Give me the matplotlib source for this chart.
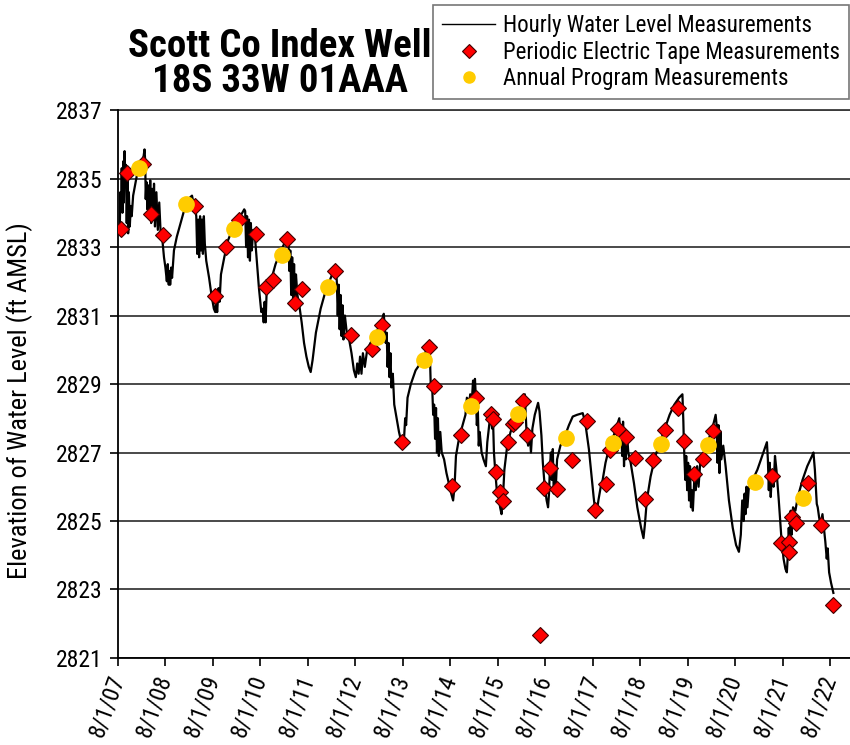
import numpy as np
import matplotlib
matplotlib.use("Agg")
import matplotlib.pyplot as plt
from matplotlib.lines import Line2D

plt.rcParams['font.family'] = ['Roboto Condensed', 'DejaVu Sans']

# hourly transducer record (decimal year, ft AMSL)
hourly = [
    (2007.62, 2833.6), (2007.63, 2834.6), (2007.645, 2834.1), (2007.66, 2835.3),
    (2007.675, 2834.0), (2007.69, 2835.5), (2007.705, 2834.3), (2007.72, 2835.8),
    (2007.735, 2834.9), (2007.75, 2835.4), (2007.765, 2833.7), (2007.78, 2835.0),
    (2007.795, 2833.4), (2007.81, 2834.6), (2007.83, 2833.6), (2007.85, 2834.2),
    (2007.87, 2833.9), (2007.90, 2834.5), (2007.98, 2835.1), (2008.06, 2835.45),
    (2008.12, 2835.65), (2008.14, 2835.85), (2008.155, 2835.5), (2008.165, 2834.4),
    (2008.18, 2834.9), (2008.20, 2834.1), (2008.22, 2834.8), (2008.24, 2833.9),
    (2008.26, 2834.95), (2008.28, 2833.7), (2008.30, 2834.7), (2008.32, 2833.8),
    (2008.34, 2834.85), (2008.36, 2833.6), (2008.39, 2834.6), (2008.42, 2833.5),
    (2008.45, 2834.3), (2008.48, 2833.4), (2008.51, 2833.3), (2008.55, 2832.7),
    (2008.58, 2832.4), (2008.61, 2832.0), (2008.63, 2832.5), (2008.65, 2831.9),
    (2008.67, 2832.3), (2008.68, 2831.9), (2008.70, 2832.4), (2008.72, 2832.1),
    (2008.76, 2832.9), (2008.82, 2833.3), (2008.90, 2833.7), (2009.00, 2834.2),
    (2009.10, 2834.45), (2009.14, 2834.5), (2009.17, 2834.3), (2009.20, 2834.2),
    (2009.23, 2833.9), (2009.25, 2832.8), (2009.27, 2833.8), (2009.29, 2832.7),
    (2009.31, 2833.9), (2009.33, 2832.9), (2009.35, 2833.8), (2009.37, 2832.8),
    (2009.39, 2833.9), (2009.41, 2833.1), (2009.44, 2832.6), (2009.50, 2832.1),
    (2009.55, 2831.6), (2009.60, 2831.2), (2009.63, 2831.1), (2009.65, 2831.5),
    (2009.67, 2831.1), (2009.70, 2831.8), (2009.72, 2831.4), (2009.75, 2832.2),
    (2009.82, 2832.7), (2009.90, 2833.2), (2010.00, 2833.55), (2010.10, 2833.8),
    (2010.20, 2834.0), (2010.24, 2834.1), (2010.26, 2834.05), (2010.28, 2833.0),
    (2010.30, 2833.9), (2010.32, 2832.7), (2010.34, 2833.8), (2010.36, 2832.6),
    (2010.38, 2833.7), (2010.40, 2832.9), (2010.43, 2833.5), (2010.46, 2833.4),
    (2010.50, 2832.7), (2010.55, 2831.8), (2010.60, 2831.1), (2010.63, 2831.2),
    (2010.65, 2830.8), (2010.67, 2831.4), (2010.69, 2830.8), (2010.71, 2831.6),
    (2010.75, 2831.8), (2010.80, 2832.0), (2010.90, 2832.5), (2011.00, 2832.85),
    (2011.10, 2833.15), (2011.15, 2833.35), (2011.17, 2833.25), (2011.19, 2832.3),
    (2011.21, 2832.9), (2011.23, 2831.6), (2011.25, 2832.7), (2011.27, 2831.4),
    (2011.29, 2832.5), (2011.31, 2831.3), (2011.33, 2832.2), (2011.36, 2831.6),
    (2011.40, 2831.3), (2011.45, 2830.8), (2011.50, 2830.2), (2011.55, 2829.8),
    (2011.60, 2829.5), (2011.64, 2829.35), (2011.68, 2829.7), (2011.75, 2830.5),
    (2011.85, 2831.2), (2011.95, 2831.7), (2012.05, 2832.05), (2012.12, 2832.3),
    (2012.17, 2832.4), (2012.19, 2832.0), (2012.21, 2831.0), (2012.23, 2831.9),
    (2012.25, 2830.6), (2012.27, 2831.6), (2012.29, 2830.4), (2012.31, 2831.3),
    (2012.33, 2830.3), (2012.36, 2831.0), (2012.40, 2830.5), (2012.45, 2830.3),
    (2012.50, 2829.9), (2012.55, 2829.4), (2012.59, 2829.2), (2012.62, 2829.6),
    (2012.65, 2829.3), (2012.68, 2829.8), (2012.71, 2829.3), (2012.74, 2829.9),
    (2012.78, 2829.5), (2012.83, 2830.0), (2012.90, 2830.2), (2013.00, 2830.4),
    (2013.08, 2830.7), (2013.15, 2830.9), (2013.18, 2831.05), (2013.20, 2830.6),
    (2013.22, 2830.2), (2013.24, 2830.5), (2013.26, 2829.5), (2013.28, 2830.2),
    (2013.30, 2829.2), (2013.32, 2829.9), (2013.34, 2828.9), (2013.37, 2829.3),
    (2013.40, 2828.4), (2013.45, 2828.0), (2013.50, 2827.6), (2013.55, 2827.3),
    (2013.58, 2827.2), (2013.61, 2827.5), (2013.63, 2828.0), (2013.65, 2827.8),
    (2013.68, 2828.6), (2013.75, 2829.0), (2013.85, 2829.4), (2013.95, 2829.6),
    (2014.05, 2829.9), (2014.13, 2830.2), (2014.15, 2829.9), (2014.17, 2828.9),
    (2014.20, 2828.9), (2014.22, 2828.1), (2014.24, 2828.4), (2014.26, 2827.4),
    (2014.28, 2828.3), (2014.30, 2827.0), (2014.32, 2828.0), (2014.34, 2826.9),
    (2014.37, 2827.6), (2014.40, 2827.0), (2014.45, 2826.8), (2014.50, 2826.4),
    (2014.55, 2826.1), (2014.60, 2825.8), (2014.64, 2825.6), (2014.67, 2826.0),
    (2014.70, 2826.9), (2014.75, 2827.3), (2014.82, 2827.7), (2014.90, 2828.1),
    (2014.93, 2828.6), (2014.96, 2828.2), (2015.00, 2828.7), (2015.03, 2828.4),
    (2015.06, 2829.1), (2015.08, 2828.7), (2015.10, 2829.15), (2015.12, 2828.6),
    (2015.14, 2827.8), (2015.16, 2828.3), (2015.18, 2827.2), (2015.20, 2827.6),
    (2015.24, 2827.0), (2015.28, 2826.8), (2015.33, 2826.6), (2015.36, 2827.3),
    (2015.40, 2827.8), (2015.43, 2828.1), (2015.46, 2827.7), (2015.48, 2828.0),
    (2015.50, 2827.0), (2015.53, 2826.4), (2015.56, 2825.9), (2015.60, 2825.7),
    (2015.63, 2825.4), (2015.66, 2825.2), (2015.69, 2825.7), (2015.72, 2826.5),
    (2015.78, 2827.2), (2015.85, 2827.6), (2015.93, 2827.9), (2016.00, 2828.1),
    (2016.08, 2828.4), (2016.15, 2828.7), (2016.17, 2828.1), (2016.19, 2827.5),
    (2016.22, 2827.2), (2016.25, 2827.6), (2016.28, 2827.0), (2016.31, 2827.7),
    (2016.36, 2828.1), (2016.43, 2828.45), (2016.46, 2828.2), (2016.50, 2827.5),
    (2016.53, 2826.7), (2016.57, 2826.0), (2016.61, 2825.6), (2016.64, 2825.4),
    (2016.66, 2825.8), (2016.68, 2826.6), (2016.70, 2827.0), (2016.72, 2826.2),
    (2016.74, 2827.1), (2016.76, 2825.8), (2016.78, 2826.5), (2016.80, 2825.9),
    (2016.83, 2826.8), (2016.90, 2827.2), (2017.00, 2827.5), (2017.08, 2827.8),
    (2017.16, 2828.05), (2017.25, 2828.1), (2017.37, 2828.15), (2017.42, 2827.9),
    (2017.47, 2827.4), (2017.50, 2827.1), (2017.55, 2826.4), (2017.60, 2825.7),
    (2017.65, 2825.1), (2017.70, 2825.6), (2017.75, 2826.0), (2017.79, 2826.2),
    (2017.85, 2826.7), (2017.92, 2827.1), (2018.00, 2827.4), (2018.07, 2827.7),
    (2018.14, 2828.0), (2018.16, 2827.6), (2018.18, 2827.8), (2018.20, 2826.9),
    (2018.22, 2827.9), (2018.24, 2826.6), (2018.26, 2827.5), (2018.28, 2826.8),
    (2018.30, 2827.6), (2018.33, 2827.0), (2018.38, 2826.7), (2018.45, 2826.1),
    (2018.52, 2825.4), (2018.60, 2824.8), (2018.65, 2824.5), (2018.68, 2824.9),
    (2018.72, 2825.6), (2018.80, 2826.3), (2018.90, 2826.9), (2019.00, 2827.3),
    (2019.10, 2827.7), (2019.20, 2828.1), (2019.30, 2828.4), (2019.40, 2828.6),
    (2019.47, 2828.7), (2019.49, 2827.9), (2019.50, 2827.3), (2019.53, 2826.2),
    (2019.55, 2826.9), (2019.57, 2825.9), (2019.59, 2826.7), (2019.61, 2825.6),
    (2019.63, 2826.6), (2019.65, 2825.4), (2019.67, 2825.9), (2019.69, 2825.3),
    (2019.72, 2826.2), (2019.75, 2825.9), (2019.78, 2826.6), (2019.81, 2826.0),
    (2019.85, 2826.8), (2019.90, 2826.9), (2020.00, 2827.3), (2020.10, 2827.7),
    (2020.17, 2828.1), (2020.19, 2827.8), (2020.21, 2826.7), (2020.23, 2827.8),
    (2020.25, 2826.4), (2020.27, 2827.6), (2020.29, 2826.8), (2020.33, 2827.2),
    (2020.38, 2826.6), (2020.45, 2825.6), (2020.53, 2824.8), (2020.60, 2824.3),
    (2020.66, 2824.1), (2020.70, 2824.6), (2020.73, 2825.6), (2020.76, 2825.0),
    (2020.78, 2825.8), (2020.80, 2825.2), (2020.82, 2826.0), (2020.84, 2825.4),
    (2020.87, 2826.0), (2020.95, 2826.2), (2021.05, 2826.5), (2021.15, 2826.9),
    (2021.25, 2827.3), (2021.27, 2826.8), (2021.29, 2825.9), (2021.31, 2826.7),
    (2021.33, 2825.7), (2021.36, 2826.5), (2021.39, 2826.0), (2021.42, 2826.9),
    (2021.45, 2826.5), (2021.50, 2825.6), (2021.55, 2824.6), (2021.60, 2823.9),
    (2021.64, 2823.6), (2021.67, 2823.5), (2021.69, 2824.0), (2021.71, 2824.8),
    (2021.73, 2824.2), (2021.75, 2825.3), (2021.77, 2824.6), (2021.80, 2825.4),
    (2021.85, 2825.3), (2021.90, 2825.7), (2022.00, 2826.2), (2022.10, 2826.6),
    (2022.20, 2826.9), (2022.23, 2827.0), (2022.26, 2826.5), (2022.30, 2825.5),
    (2022.32, 2825.4), (2022.35, 2825.1), (2022.38, 2824.9), (2022.42, 2825.2),
    (2022.45, 2824.8), (2022.48, 2824.4), (2022.51, 2823.9), (2022.53, 2824.2),
    (2022.56, 2823.5), (2022.60, 2823.2), (2022.65, 2822.9),
]
hourly_t = [p[0] for p in hourly]
hourly_ft = [p[1] for p in hourly]

# periodic electric tape measurements
tape_t = [2007.65, 2007.78, 2008.10, 2008.27, 2008.53, 2009.21, 2009.62, 2009.86,
          2010.12, 2010.49, 2010.70, 2010.84, 2011.15, 2011.30, 2011.45, 2012.15,
          2012.48, 2012.93, 2013.14, 2013.57, 2014.13, 2014.23, 2014.62, 2014.80,
          2015.12, 2015.43, 2015.49, 2015.55, 2015.63, 2015.69, 2015.80, 2015.91,
          2015.94, 2016.12, 2016.20, 2016.46, 2016.56, 2016.68, 2016.83, 2017.14,
          2017.45, 2017.63, 2017.87, 2017.95, 2018.11, 2018.29, 2018.48, 2018.69,
          2018.86, 2019.11, 2019.38, 2019.50, 2019.72, 2019.91, 2020.12, 2021.36,
          2021.55, 2021.71, 2021.71, 2021.78, 2021.86, 2022.11, 2022.39, 2022.64]
tape_ft = [2833.52, 2835.15, 2835.42, 2833.96, 2833.34, 2834.20, 2831.57, 2833.00,
           2833.79, 2833.37, 2831.84, 2832.04, 2833.22, 2831.37, 2831.77, 2832.30,
           2830.42, 2830.01, 2830.73, 2827.32, 2830.07, 2828.94, 2826.02, 2827.51,
           2828.60, 2828.13, 2827.98, 2826.42, 2825.85, 2825.57, 2827.30, 2827.83,
           2827.89, 2828.49, 2827.51, 2821.68, 2825.97, 2826.54, 2825.93, 2826.78,
           2827.92, 2825.32, 2826.09, 2827.07, 2827.70, 2827.46, 2826.85, 2825.65,
           2826.78, 2827.67, 2828.29, 2827.34, 2826.36, 2826.81, 2827.63, 2826.32,
           2824.35, 2824.40, 2824.10, 2825.11, 2824.93, 2826.12, 2824.88, 2822.54]

# annual program measurements (January)
annual_t = [2008.02, 2009.01, 2010.02, 2011.03, 2012.00, 2013.03, 2014.03, 2015.02,
            2016.01, 2017.02, 2018.00, 2019.01, 2020.00, 2021.00, 2022.00]
annual_ft = [2835.32, 2834.26, 2833.52, 2832.78, 2831.84, 2830.36, 2829.70, 2828.36,
             2828.12, 2827.41, 2827.29, 2827.24, 2827.22, 2826.13, 2825.68]

tick_years = list(range(2007, 2023))
tick_labels = ["8/1/%02d" % (y % 100) for y in tick_years]
y_ticks = list(range(2821, 2838, 2))

fig = plt.figure(figsize=(8.5, 7.45), dpi=100)
ax = fig.add_axes([0.1388, 0.1168, 0.8612, 0.7355])

ax.plot(hourly_t, hourly_ft, color='black', lw=1.6, zorder=3)
ax.plot(tape_t, tape_ft, ls='none', marker='D', ms=8.5, mfc='#FF0000',
        mec='#400000', mew=0.8, zorder=4)
ax.plot(annual_t, annual_ft, ls='none', marker='o', ms=11, mfc='#FFCC00',
        mec='#FFCC00', zorder=5)

aug1 = 212.0 / 365.0
ax.set_xlim(2007 + aug1, 2023.0)
ax.set_ylim(2821, 2837)
ax.set_xticks([y + aug1 for y in tick_years])
ax.set_xticklabels(tick_labels, rotation=70, ha='right', va='center',
                   rotation_mode='anchor', fontsize=17)
ax.set_yticks(y_ticks)
ax.set_yticklabels([str(v) for v in y_ticks], fontsize=17)
ax.tick_params(axis='both', direction='out', length=6, width=1.2, color='black')
ax.tick_params(axis='x', pad=7)
ax.tick_params(axis='y', pad=5)

ax.grid(axis='y', color='#3a3a3a', lw=1.3)
ax.set_axisbelow(True)
for side in ['top', 'right']:
    ax.spines[side].set_visible(False)
for side in ['left', 'bottom']:
    ax.spines[side].set_linewidth(1.3)
ax.axhline(2837, color='#3a3a3a', lw=1.3, clip_on=False, zorder=1)

ax.set_ylabel("Elevation of Water Level (ft AMSL)", fontsize=19)
ax.yaxis.set_label_coords(-0.116, 0.47)

fig.text(0.329, 0.937, "Scott Co Index Well", ha='center', va='center',
         fontsize=28, fontweight='bold')
fig.text(0.329, 0.890, "18S 33W 01AAA", ha='center', va='center',
         fontsize=28, fontweight='bold')

handles = [
    Line2D([], [], color='black', lw=1.0),
    Line2D([], [], ls='none', marker='D', ms=7, mfc='#FF0000', mec='#400000', mew=0.8),
    Line2D([], [], ls='none', marker='o', ms=8, mfc='#FFCC00', mec='#FFCC00'),
]
labels = ["Hourly Water Level Measurements",
          "Periodic Electric Tape Measurements",
          "Annual Program Measurements"]
leg = fig.legend(handles, labels, loc='upper right', bbox_to_anchor=(0.999, 0.993),
                 fontsize=16.5, frameon=True, fancybox=False, borderpad=0.4,
                 labelspacing=0.15, handlelength=2.3, handletextpad=0.35,
                 borderaxespad=0)
leg.get_frame().set_edgecolor('#555555')
leg.get_frame().set_linewidth(1.2)

fig.savefig("out.png", dpi=100)
